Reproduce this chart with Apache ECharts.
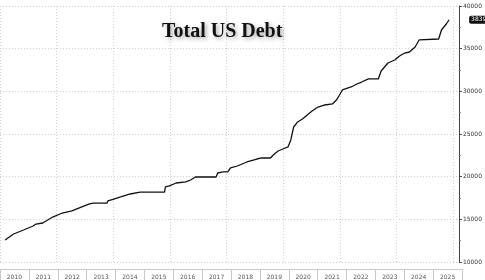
<!DOCTYPE html>
<html>
<head>
<meta charset="utf-8">
<script src="https://cdn.jsdelivr.net/npm/echarts@6/dist/echarts.min.js"></script>
<style>html,body{margin:0;padding:0;background:#fff;}#c{width:485px;height:280px;}</style>
</head>
<body>
<div id="c"></div>
<script>
// decimal years
const years = [2010.18,2010.48,2010.83,2011.17,2011.27,2011.51,2011.58,2011.86,2012.20,2012.54,2012.89,2013.16,2013.30,2013.78,2013.81,2014.02,2014.26,2014.60,2014.95,2015.05,2015.81,2015.84,2015.98,2016.22,2016.56,2016.73,2016.90,2017.08,2017.63,2017.69,2017.87,2018.04,2018.14,2018.38,2018.72,2019.07,2019.24,2019.55,2019.65,2019.82,2019.99,2020.17,2020.27,2020.37,2020.51,2020.68,2020.85,2021.02,2021.23,2021.47,2021.74,2021.88,2021.99,2022.09,2022.40,2022.60,2022.77,2023.01,2023.36,2023.46,2023.70,2023.94,2024.11,2024.29,2024.46,2024.66,2024.80,2025.49,2025.59,2025.76,2025.86];
// total debt, $bn
const debt = [12580,13280,13750,14220,14450,14570,14690,15270,15740,15980,16450,16800,16910,16910,17150,17380,17620,17970,18200,18200,18200,18790,18910,19260,19380,19610,19960,19960,19960,20430,20550,20550,21020,21250,21720,22070,22190,22190,22540,23010,23240,23480,24300,25820,26410,26760,27230,27700,28160,28400,28520,28980,29570,30160,30510,30860,31090,31450,31450,32380,33320,33670,34140,34490,34610,35200,36020,36130,37190,37890,38390];
const yearLabels = ['2010','2011','2012','2013','2014','2015','2016','2017','2018','2019','2020','2021','2022','2023','2024','2025'];
const yTicks = [10000,15000,20000,25000,30000,35000,40000];
const titleText = 'Total US Debt';

const series = years.map((y, i) => [y, debt[i]]);
const labelFont = 'DejaVu Sans';

const chart = echarts.init(document.getElementById('c'), null, {renderer: 'canvas'});
chart.setOption({
  animation: false,
  backgroundColor: '#fff',
  title: {
    text: titleText,
    left: 157, top: 17,
    textStyle: {
      fontFamily: 'Liberation Serif', fontWeight: 'bold', fontSize: 20, color: '#111',
      textShadowColor: 'rgba(0,0,0,0.35)', textShadowBlur: 4, textShadowOffsetX: 2, textShadowOffsetY: 2
    }
  },
  grid: [
    {left: -4.1, right: 17, top: 6, bottom: 18},
    {left: -4.1, width: 466.1, top: 268, height: 1}
  ],
  xAxis: [
    {
      type: 'value', gridIndex: 0, min: 2010, max: 2026.206, interval: 2,
      axisLine: {show: false}, axisTick: {show: false}, axisLabel: {show: false},
      splitLine: {show: true, lineStyle: {color: '#cfcfcf', type: [1, 2], width: 1}}
    },
    {
      type: 'category', gridIndex: 1, data: yearLabels, boundaryGap: true, position: 'bottom',
      axisLine: {show: true, lineStyle: {color: '#c8c8c8', width: 1}},
      axisTick: {show: true, length: 12, alignWithLabel: false, lineStyle: {color: '#c8c8c8'}},
      axisLabel: {show: true, fontSize: 6, fontFamily: labelFont, color: '#555', margin: 5, interval: 0},
      splitLine: {show: false}
    }
  ],
  yAxis: [
    {
      type: 'value', gridIndex: 0, position: 'right', min: 10000, max: 40000, interval: 5000,
      axisLine: {show: true, lineStyle: {color: '#444', width: 1}},
      axisTick: {show: true, length: 3, lineStyle: {color: '#444'}},
      minorTick: {show: true, splitNumber: 2, length: 2, lineStyle: {color: '#777'}},
      axisLabel: {show: true, fontSize: 6, fontFamily: labelFont, color: '#333', margin: 4,
        formatter: v => yTicks.includes(v) ? String(v) : ''},
      splitLine: {show: true, lineStyle: {color: '#cfcfcf', type: [1, 2], width: 1}}
    },
    {
      type: 'value', gridIndex: 1, show: false
    }
  ],
  series: [{
    type: 'line', xAxisIndex: 0, yAxisIndex: 0, data: series, showSymbol: false,
    lineStyle: {color: '#111', width: 1.3}, itemStyle: {color: '#111'},
    endLabel: {
      show: true, distance: 11, offset: [9, 0], formatter: p => String(p.value[1]),
      backgroundColor: '#111', color: '#fff', fontSize: 6, fontFamily: labelFont,
      padding: [1, 2, 1, 2], borderRadius: 2
    }
  }]
});
</script>
</body>
</html>
